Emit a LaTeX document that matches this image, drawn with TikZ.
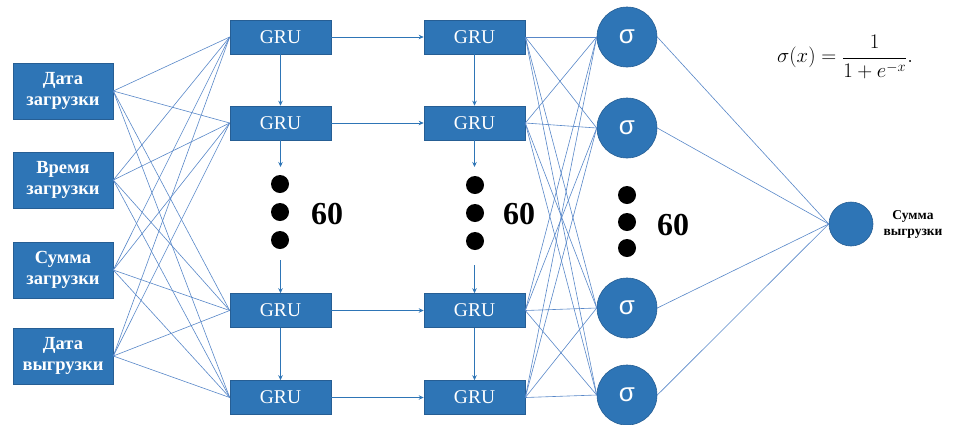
\documentclass[tikz,border=0pt]{standalone}
\usepackage[no-math]{fontspec}
\setmainfont{Liberation Serif}
\newfontfamily\sigfont{Liberation Sans}
\usetikzlibrary{arrows.meta}
\definecolor{boxblue}{RGB}{46,117,182}
\definecolor{edgeblue}{RGB}{38,94,148}
\definecolor{linkblue}{RGB}{88,135,200}
\tikzset{
  inbox/.style={rectangle, fill=boxblue, draw=edgeblue, line width=0.6pt, minimum width=100pt, minimum height=56pt, inner sep=0pt, text=white, align=center, font=\fontsize{18.5}{21}\selectfont\bfseries},
  grubox/.style={rectangle, fill=boxblue, draw=edgeblue, line width=0.6pt, minimum width=101pt, minimum height=34pt, inner sep=0pt, text=white, font=\fontsize{19.5}{22}\selectfont},
  signode/.style={circle, fill=boxblue, draw=edgeblue, line width=0.6pt, minimum size=60pt, inner sep=0pt, text=white, font=\sigfont\fontsize{26}{28}\selectfont},
  outnode/.style={circle, fill=boxblue, draw=edgeblue, line width=0.6pt, minimum size=44pt, inner sep=0pt},
  link/.style={draw=linkblue, line width=0.6pt},
  flow/.style={draw=boxblue, line width=0.9pt, -{Stealth[length=5pt,width=4.5pt]}},
  blackdot/.style={circle, fill=black, minimum size=18pt, inner sep=0pt},
  countlbl/.style={font=\fontsize{32}{34}\selectfont\bfseries},
}
\begin{document}
\begin{tikzpicture}[x=1pt,y=-1pt]
\useasboundingbox (0,0) rectangle (958,424);
% inputs
\node[inbox] (i1) at (63,91) {Дата\\загрузки};
\node[inbox] (i2) at (63,180) {Время\\загрузки};
\node[inbox] (i3) at (63,270) {Сумма\\загрузки};
\node[inbox] (i4) at (63,356) {Дата\\выгрузки};
% GRU columns
\foreach \r/\y in {1/37,2/123,3/310.5,4/397.5}{
  \node[grubox] (a\r) at (280.5,\y) {GRU};
  \node[grubox] (b\r) at (474.5,\y) {GRU};
}
% sigma
\node[signode] (s1) at (627,37) {σ};
\node[signode] (s2) at (627,128) {σ};
\node[signode] (s3) at (627,308) {σ};
\node[signode] (s4) at (627,395) {σ};
% output
\node[outnode] (o) at (851,224) {};
\node[font=\fontsize{13.5}{16}\selectfont\bfseries, align=center] (olbl) at (913,224) {Сумма\\выгрузки};
% formula
\node[font=\fontsize{22}{26}\selectfont] (f) at (845,57) {$\displaystyle \sigma(x)=\frac{1}{1+e^{-x}}.$};
% links
\foreach \i in {1,...,4}{
  \foreach \j in {1,...,4}{
    \draw[link] (i\i.east) -- (a\j.west);
    \draw[link] (b\i.east) -- (s\j.west);
  }
  \draw[link] (s\i.east) -- (o.west);
}
% recurrent arrows
\coordinate (a2d) at (280.5,167);
\coordinate (a3u) at (280.5,260);
\coordinate (b2d) at (474.5,167);
\coordinate (b3u) at (474.5,265);
\draw[flow] (a1.south) -- (a2.north);
\draw[flow] (a2.south) -- (a2d);
\draw[flow] (a3u) -- (a3.north);
\draw[flow] (a3.south) -- (a4.north);
\draw[flow] (b1.south) -- (b2.north);
\draw[flow] (b2.south) -- (b2d);
\draw[flow] (b3u) -- (b3.north);
\draw[flow] (b3.south) -- (b4.north);
\foreach \r in {1,...,4}{ \draw[flow] (a\r.east) -- (b\r.west); }
% dots
\node[blackdot] (da1) at (280,184) {};
\node[blackdot] (da2) at (280,212) {};
\node[blackdot] (da3) at (280,240) {};
\node[blackdot] (db1) at (475,185) {};
\node[blackdot] (db2) at (475,213) {};
\node[blackdot] (db3) at (475,241) {};
\node[blackdot] (ds1) at (627,195) {};
\node[blackdot] (ds2) at (627,222) {};
\node[blackdot] (ds3) at (627,248) {};
\node[countlbl] (n1) at (327,214) {60};
\node[countlbl] (n2) at (519,214) {60};
\node[countlbl] (n3) at (673,225) {60};
\end{tikzpicture}
\end{document}
